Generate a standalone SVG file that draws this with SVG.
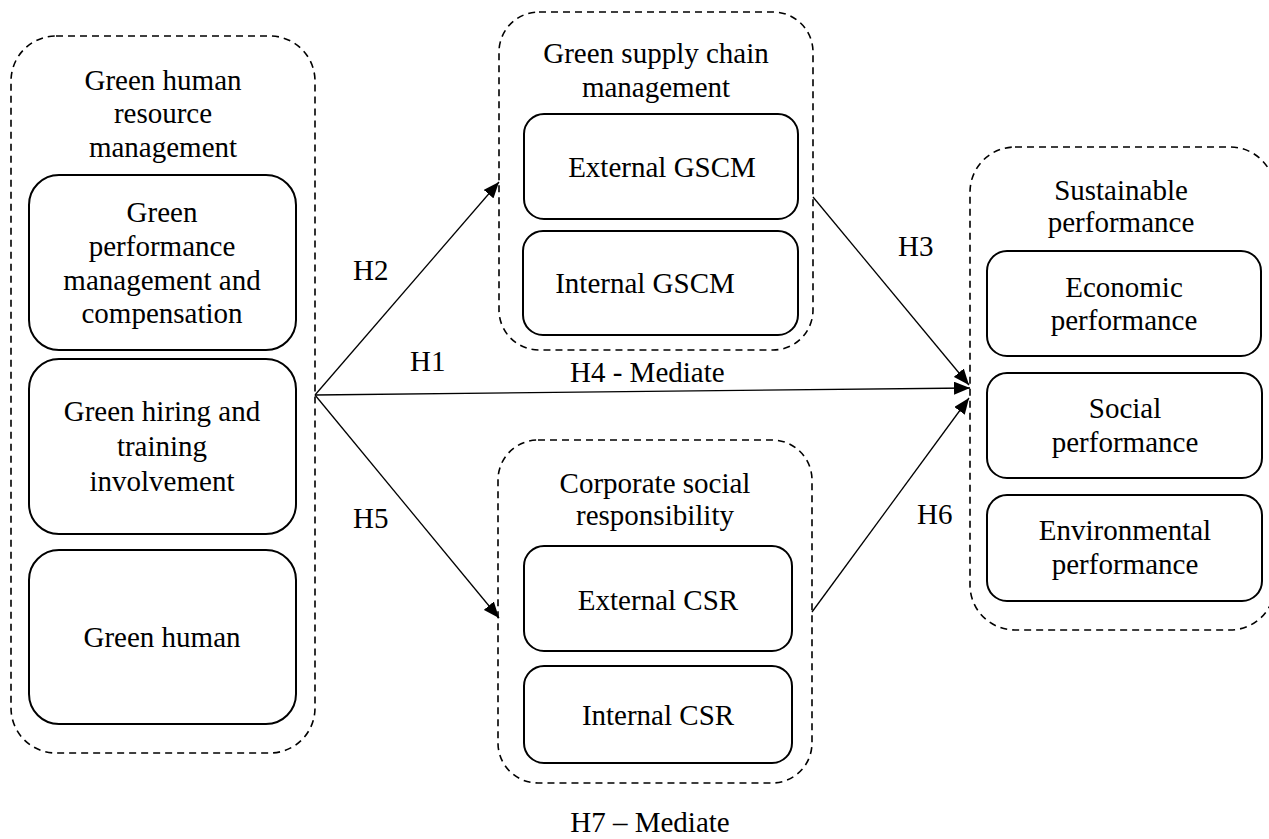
<svg xmlns="http://www.w3.org/2000/svg" width="1269" height="839" viewBox="0 0 1269 839">
<defs>
<style>
.grp{fill:none;stroke:#000;stroke-width:1.6;stroke-dasharray:7 5}
.box{fill:#fff;stroke:#000;stroke-width:2}
.t{font-family:"Liberation Serif","Times New Roman",serif;font-size:29px;fill:#000;text-anchor:middle}
.lbl{font-family:"Liberation Serif","Times New Roman",serif;font-size:29px;fill:#000}
.ln{fill:none;stroke:#000;stroke-width:1.3}
</style>
<marker id="ah" viewBox="0 0 10 10" refX="10" refY="5" markerWidth="16" markerHeight="13" markerUnits="userSpaceOnUse" orient="auto" preserveAspectRatio="none"><path d="M0,0 L10,5 L0,10 z" fill="#000"/></marker>
</defs>
<rect width="1269" height="839" fill="#fff"/>

<g id="ghrm">
<rect class="grp" x="11" y="36" width="304" height="717" rx="45"/>
<text class="t" x="163" y="90">Green human</text>
<text class="t" x="163" y="123">resource</text>
<text class="t" x="163" y="157">management</text>
</g>
<g id="gpmc">
<rect class="box" x="29" y="175" width="267" height="175" rx="30"/>
<text class="t" x="162" y="222">Green</text>
<text class="t" x="162" y="256">performance</text>
<text class="t" x="162" y="290">management and</text>
<text class="t" x="162" y="323">compensation</text>
</g>
<g id="ghti">
<rect class="box" x="29" y="359" width="267" height="175" rx="30"/>
<text class="t" x="162" y="421">Green hiring and</text>
<text class="t" x="162" y="456">training</text>
<text class="t" x="162" y="491">involvement</text>
</g>
<g id="gh">
<rect class="box" x="29" y="550" width="267" height="174" rx="30"/>
<text class="t" x="162" y="647">Green human</text>
</g>

<g id="gscm">
<rect class="grp" x="499" y="12" width="314" height="338" rx="40"/>
<text class="t" x="656" y="63">Green supply chain</text>
<text class="t" x="656" y="97">management</text>
</g>
<g id="ext-gscm">
<rect class="box" x="524" y="114" width="274" height="105" rx="20"/>
<text class="t" x="662" y="177">External GSCM</text>
</g>
<g id="int-gscm">
<rect class="box" x="523" y="231" width="275" height="104" rx="20"/>
<text class="t" x="645" y="293">Internal GSCM</text>
</g>

<g id="csr">
<rect class="grp" x="498" y="440" width="314" height="343" rx="40"/>
<text class="t" x="655" y="493">Corporate social</text>
<text class="t" x="655" y="525">responsibility</text>
</g>
<g id="ext-csr">
<rect class="box" x="524" y="546" width="268" height="105" rx="20"/>
<text class="t" x="658" y="610">External CSR</text>
</g>
<g id="int-csr">
<rect class="box" x="524" y="666" width="268" height="97" rx="20"/>
<text class="t" x="658" y="725">Internal CSR</text>
</g>

<g id="sp">
<rect class="grp" x="970" y="147" width="305" height="483" rx="45"/>
<text class="t" x="1121" y="200">Sustainable</text>
<text class="t" x="1121" y="232">performance</text>
</g>
<g id="econ">
<rect class="box" x="987" y="251" width="274" height="105" rx="20"/>
<text class="t" x="1124" y="297">Economic</text>
<text class="t" x="1124" y="330">performance</text>
</g>
<g id="soc">
<rect class="box" x="987" y="373" width="275" height="105" rx="20"/>
<text class="t" x="1125" y="418">Social</text>
<text class="t" x="1125" y="452">performance</text>
</g>
<g id="env">
<rect class="box" x="987" y="495" width="275" height="106" rx="20"/>
<text class="t" x="1125" y="540">Environmental</text>
<text class="t" x="1125" y="574">performance</text>
</g>

<g id="connectors">
<line class="ln" x1="315" y1="395" x2="499" y2="182" marker-end="url(#ah)"/>
<line class="ln" x1="315" y1="395" x2="499" y2="618" marker-end="url(#ah)"/>
<line class="ln" x1="315" y1="395" x2="970" y2="388" marker-end="url(#ah)"/>
<line class="ln" x1="813" y1="197" x2="969" y2="385" marker-end="url(#ah)"/>
<line class="ln" x1="812" y1="612" x2="969" y2="398" marker-end="url(#ah)"/>
</g>

<g id="labels">
<text class="lbl" x="353" y="280">H2</text>
<text class="lbl" x="410" y="371">H1</text>
<text class="lbl" x="570" y="382">H4 - Mediate</text>
<text class="lbl" x="353" y="528">H5</text>
<text class="lbl" x="898" y="256">H3</text>
<text class="lbl" x="917" y="524">H6</text>
<text class="t" x="650" y="832">H7 – Mediate</text>
</g>
</svg>
